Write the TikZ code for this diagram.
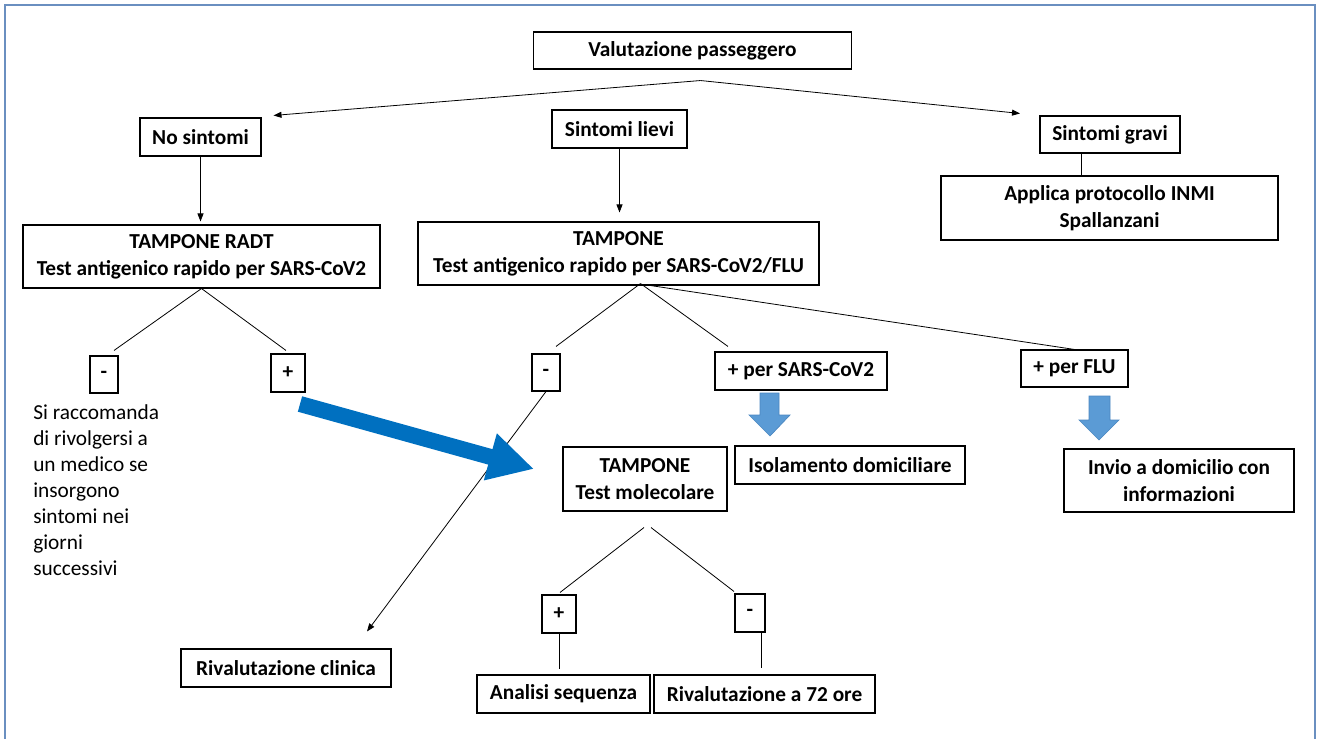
\documentclass[tikz,border=0pt]{standalone}
\usepackage{fontspec}
\setmainfont{Carlito}
\usetikzlibrary{arrows.meta,calc}

\definecolor{framecol}{HTML}{6A8FC0}
\definecolor{bigblue}{HTML}{0070C0}
\definecolor{lightblue}{HTML}{5B9BD5}
\definecolor{lightedge}{HTML}{4A86C0}

\tikzset{
  box/.style={draw, line width=0.8pt, font=\fontsize{16}{20}\selectfont\bfseries,
    align=center, inner sep=0pt},
  link/.style={line width=0.6pt},
  arr/.style={link, -{Triangle[length=6pt,width=4.5pt]}},
  fatarrow/.style={bigblue, line width=12pt, -{Triangle[length=34pt,width=34pt]}},
  downarrow/.style={draw=lightedge, fill=lightblue, line width=0.5pt}
}

\begin{document}
\begin{tikzpicture}[x=0.75pt,y=-0.75pt]
  \useasboundingbox (0,0) rectangle (1319,738);

  % Frame
  \draw[framecol, line width=1.2pt] (5,745) -- (5,5) -- (1315,5) -- (1315,745);

  % Top level
  \node[box, minimum width=239pt, minimum height=27.75pt] (valuta) at (692.5,50.5) {Valutazione passeggero};
  \node[box, minimum width=90.75pt, minimum height=28.5pt] (nosint) at (200.5,137) {No sintomi};
  \node[box, minimum width=101.25pt, minimum height=28.5pt] (lievi) at (619.5,129) {Sintomi lievi};
  \node[box, minimum width=105pt, minimum height=27.75pt] (gravi) at (1110,134.5) {Sintomi gravi};
  \node[box, minimum width=252.75pt, minimum height=48pt] (proto) at (1109.5,208) {Applica protocollo INMI\\Spallanzani};

  % Tests
  \node[box, minimum width=267.75pt, minimum height=47.25pt] (radt) at (201.5,256.5) {TAMPONE RADT\\Test antigenico rapido per SARS-CoV2};
  \node[box, minimum width=300.75pt, minimum height=47.25pt] (antflu) at (618.5,253.5) {TAMPONE\\Test antigenico rapido per SARS-CoV2/FLU};

  % Results
  \node[box, minimum width=21pt, minimum height=27.75pt] (minusA) at (104,374.5) {-};
  \node[box, minimum width=25.5pt, minimum height=28.5pt] (plusA) at (288,373) {+};
  \node[box, minimum width=21pt, minimum height=27.75pt] (minusB) at (546,372.5) {-};
  \node[box, minimum width=129pt, minimum height=28.5pt] (plussars) at (801,371) {+ per SARS-CoV2};
  \node[box, minimum width=80.25pt, minimum height=27.75pt] (plusflu) at (1074.5,368.5) {+ per FLU};

  % Note
  \node[anchor=north west, align=left, inner sep=0pt, font=\fontsize{16}{19.5}\selectfont] (note) at (33,404)
    {Si raccomanda\\di rivolgersi a\\un medico se\\insorgono\\sintomi nei\\giorni\\successivi};

  % Outcomes
  \node[box, minimum width=123pt, minimum height=48pt] (molec) at (645,479) {TAMPONE\\Test molecolare};
  \node[box, minimum width=172.5pt, minimum height=28.5pt] (isol) at (850,465) {Isolamento domiciliare};
  \node[box, minimum width=172.5pt, minimum height=47.25pt] (invio) at (1179,480.5) {Invio a domicilio con\\informazioni};
  \node[box, minimum width=157.5pt, minimum height=28.5pt] (rivclin) at (286,668) {Rivalutazione clinica};
  \node[box, minimum width=25.5pt, minimum height=28.5pt] (plusC) at (559,614) {+};
  \node[box, minimum width=22.5pt, minimum height=28.5pt] (minusC) at (750,613) {-};
  \node[box, minimum width=129.75pt, minimum height=28.5pt] (analisi) at (563.5,694) {Analisi sequenza};
  \node[box, minimum width=165.75pt, minimum height=28.5pt] (riv72) at (764.5,694) {Rivalutazione a 72 ore};

  % Fork points
  \coordinate (topfork) at ($(valuta.south)+(8,11)$);
  \coordinate (molfork) at ($(molec.south)+(0,16)$);

  % Top branches
  \draw[arr] (topfork) -- ($(nosint.north)+(73,-2)$);
  \draw[arr] (topfork) -- ($(gravi.north)+(-90,-2)$);
  \draw[arr] (nosint.south) -- ($(radt.north)+(-1,-3)$);
  \draw[arr] (lievi.south) -- ($(antflu.north)+(1,-9)$);
  \draw[link] ($(gravi.south)+(-29,0)$) -- ($(proto.north)+(-28.5,0)$);

  % RADT branches
  \draw[link] (radt.south) -- ($(minusA.north)+(10,-5)$);
  \draw[link] (radt.south) -- ($(plusA.north)+(-2,-3)$);

  % SARS-CoV2/FLU branches
  \draw[link] ($(antflu.south)+(22,-2)$) -- ($(minusB.north)+(10,-7)$);
  \draw[link] ($(antflu.south)+(22,-2)$) -- ($(plussars.north)+(-73,-5)$);
  \draw[link] ($(antflu.south)+(32,0)$) -- (plusflu.north);
  \draw[arr] (minusB.south) -- ($(rivclin.north)+(81,-17)$);

  % Molecular branches
  \draw[link] ($(molfork)+(-1,0)$) -- ($(plusC.north)+(1,-2)$);
  \draw[link] ($(molfork)+(6,0)$) -- ($(minusC.north)+(-16,-2)$);
  \draw[link] (plusC.south) -- ($(plusC.south)+(0,35)$);
  \draw[link] ($(minusC.south)+(11,0)$) -- ($(minusC.south)+(11,35)$);

  % Block arrows
  \coordinate (fatstart) at (300,404);
  \coordinate (fatend) at (534,469);
  \draw[fatarrow] (fatstart) -- (fatend);
  \draw[downarrow] (760,393) -- (779,393) -- (779,415) -- (790,415) -- (770,436)
    -- (749,415) -- (760,415) -- cycle;
  \draw[downarrow] (1089,396) -- (1110,396) -- (1110,420) -- (1119,420) -- (1099,440)
    -- (1079,420) -- (1089,420) -- cycle;
\end{tikzpicture}
\end{document}
